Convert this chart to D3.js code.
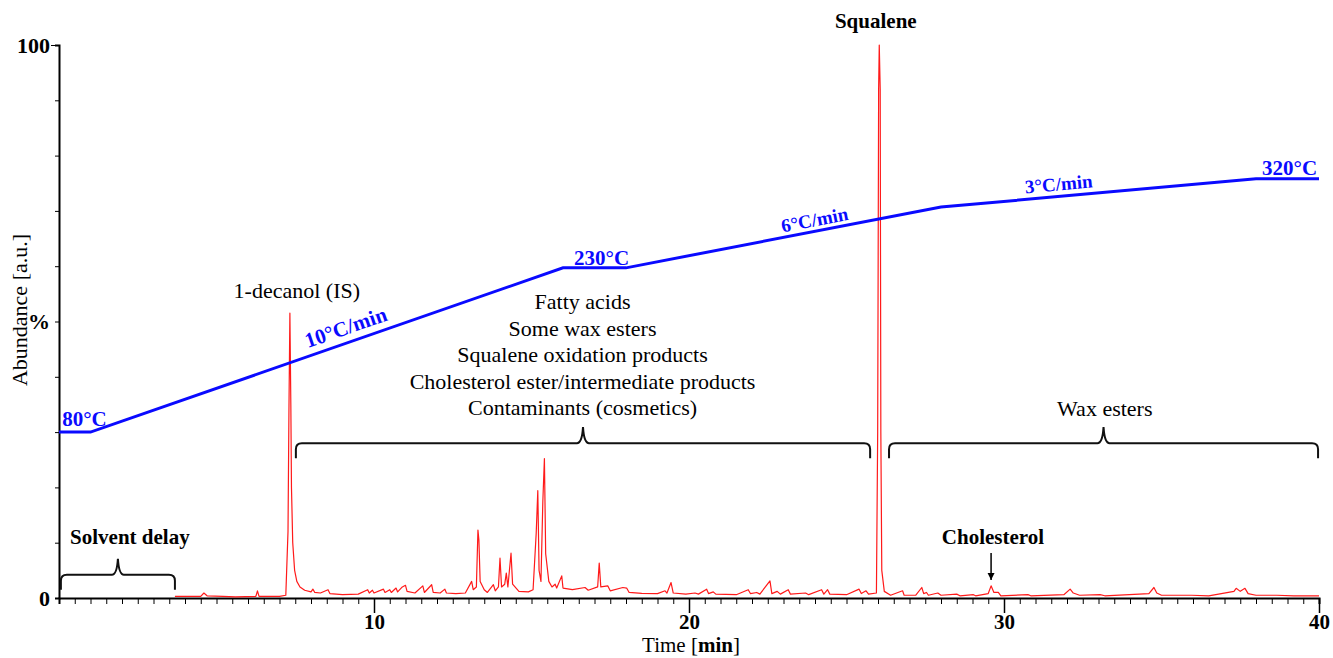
<!DOCTYPE html>
<html>
<head>
<meta charset="utf-8">
<script src="https://cdn.jsdelivr.net/npm/d3@7"></script>
<style>
  body { margin: 0; background: #fff; }
  #chromatogram svg { display: block; font-family: "Liberation Serif", "Times New Roman", serif; }
</style>
</head>
<body>
<div id="chromatogram"></div>
<script>
// GC-MS chromatogram, [time (min), abundance (%)]
const chromatogram = [
  [3.68, 0.3], [4.5, 0.3], [4.6, 0.9], [4.7, 0.4], [5.2, 0.3], [5.6, 0.2],
  [6.25, 0.3], [6.3, 1.3], [6.35, 0.3], [7.0, 0.3], [7.2, 0.5],
  [7.27, 12], [7.3, 34], [7.33, 51.5], [7.36, 35], [7.38, 20], [7.42, 10],
  [7.48, 5], [7.55, 3], [7.65, 2], [7.8, 1.4], [8.0, 1.1],
  [8.06, 1.6], [8.12, 1.0], [8.3, 0.9], [8.54, 1.5], [8.6, 0.8], [9.0, 0.6], [9.5, 0.7],
  [9.8, 1.5], [9.85, 0.9], [9.95, 1.4], [10.0, 0.9], [10.3, 1.6], [10.35, 1.0],
  [10.5, 1.5], [10.55, 1.0], [10.7, 1.8], [10.75, 1.1], [10.9, 2.0], [11.0, 2.3],
  [11.05, 1.2], [11.3, 0.9], [11.55, 2.2], [11.6, 1.0], [11.83, 2.4], [11.88, 1.0],
  [12.1, 0.9], [12.25, 1.6], [12.3, 0.9], [12.6, 0.8], [12.9, 0.9],
  [13.1, 3.0], [13.15, 1.5], [13.25, 2.0], [13.3, 12.3], [13.33, 10.5], [13.37, 3.0],
  [13.5, 1.5], [13.6, 1.0], [13.79, 2.4], [13.85, 1.3], [13.95, 2.0], [14.0, 7.2],
  [14.05, 2.0], [14.15, 2.5], [14.2, 4.5], [14.25, 2.0], [14.35, 8.1], [14.4, 2.5],
  [14.6, 1.2], [14.9, 1.1], [15.05, 1.5],
  [15.15, 11.8], [15.2, 19.4], [15.24, 5.0], [15.3, 3.0], [15.36, 17.5], [15.41, 25.2],
  [15.45, 8.0], [15.55, 3.0], [15.65, 2.0], [15.75, 2.5], [15.8, 1.8], [15.96, 4.0],
  [16.0, 1.8], [16.3, 1.5], [16.7, 1.9], [16.8, 1.4], [17.1, 2.0], [17.15, 6.3],
  [17.2, 2.0], [17.42, 2.2], [17.5, 1.3], [17.9, 1.9], [18.02, 1.8], [18.1, 1.0],
  [18.5, 0.85], [19.0, 0.8], [19.24, 1.3], [19.3, 0.9], [19.43, 2.8], [19.5, 0.9],
  [19.9, 0.7], [20.19, 0.9], [20.3, 0.7], [20.56, 1.6], [20.62, 0.8], [20.77, 1.1],
  [20.85, 0.7], [21.5, 0.6], [21.88, 1.5], [21.95, 0.8], [22.15, 1.0], [22.25, 0.7],
  [22.57, 3.1], [22.63, 0.8], [22.8, 1.2], [22.9, 0.7], [23.15, 1.5], [23.22, 0.7],
  [23.7, 0.9], [23.8, 0.6], [24.21, 1.5], [24.28, 0.7], [24.4, 1.5], [24.47, 0.7],
  [25.0, 0.6], [25.4, 1.6], [25.47, 0.8], [25.62, 1.3], [25.7, 0.7], [25.95, 0.9],
  [25.99, 30], [26.02, 92], [26.04, 100], [26.07, 92], [26.09, 30], [26.12, 5],
  [26.2, 1.2], [26.4, 0.5], [26.78, 1.3], [26.83, 0.5], [27.2, 0.5], [27.39, 1.9],
  [27.45, 0.8], [27.54, 1.0], [27.6, 0.5], [27.9, 0.9], [28.0, 0.5], [28.5, 0.7],
  [28.6, 0.4], [29.03, 0.6], [29.1, 0.4], [29.5, 0.8], [29.59, 2.2], [29.68, 1.0],
  [29.82, 1.0], [29.9, 0.4], [30.76, 0.6], [30.85, 0.4], [31.9, 0.6], [32.1, 1.6],
  [32.2, 0.9], [32.4, 0.5], [33.05, 0.6], [33.2, 0.4], [34.6, 0.8], [34.76, 1.9],
  [34.85, 0.9], [35.0, 0.5], [35.96, 0.5], [36.5, 0.4], [37.3, 1.2], [37.37, 1.75],
  [37.5, 1.2], [37.65, 1.75], [37.75, 0.8], [38.0, 0.5], [38.66, 0.5], [39.2, 0.4], [40, 0.4]
];

// oven programme, drawn on the abundance scale
const tempProgramTime = [0, 1, 16, 18, 28, 38, 40];
const tempProgramLevel = [30.0, 30.0, 59.7, 59.7, 70.7, 75.8, 75.8];
const tempLabels = ["80°C", "10°C/min", "230°C", "6°C/min", "3°C/min", "320°C"];

const xMajorTicks = [10, 20, 30, 40];
const yLabelValues = [0, 50, 100];
const yLabelTexts = ["0", "%", "100"];

const compoundClasses = [
  "Fatty acids",
  "Some wax esters",
  "Squalene oxidation products",
  "Cholesterol ester/intermediate products",
  "Contaminants (cosmetics)"
];

class ChromatogramChart {
  constructor(containerId) {
    this.containerId = containerId;
    this.width = 1333;
    this.height = 658;
    this.font = "'Liberation Serif', 'Times New Roman', serif";
  }

  render() {
    const svg = d3.select(`#${this.containerId}`)
      .append("svg")
      .attr("width", this.width)
      .attr("height", this.height);

    svg.append("rect")
      .attr("width", this.width)
      .attr("height", this.height)
      .attr("fill", "#fff");

    const x = d3.scaleLinear().domain([0, 40]).range([59, 1319]);
    const y = d3.scaleLinear().domain([0, 100]).range([598, 45]);

    // x axis: half-minute minor ticks + labelled major ticks
    svg.append("g")
      .attr("transform", `translate(0,${y(0)})`)
      .call(d3.axisBottom(x).tickValues(d3.range(0, 40.01, 0.5)).tickSize(6).tickFormat(""))
      .call((g) => g.select(".domain").attr("stroke-width", 2))
      .call((g) => g.selectAll(".tick line").attr("stroke-width", 1));

    svg.append("g")
      .attr("transform", `translate(0,${y(0)})`)
      .call(d3.axisBottom(x).tickValues(xMajorTicks).tickSize(15).tickPadding(1))
      .call((g) => g.select(".domain").remove())
      .call((g) => g.selectAll(".tick line").attr("stroke-width", 1.5))
      .call((g) => g.selectAll("text")
        .attr("font-family", this.font)
        .attr("font-size", 21)
        .attr("font-weight", "bold")
        .attr("fill", "#000"));

    // y axis
    svg.append("g")
      .attr("transform", `translate(${x(0)},0)`)
      .call(d3.axisLeft(y)
        .tickValues(d3.range(0, 100.01, 10))
        .tickSize(4)
        .tickPadding(5)
        .tickFormat((d) => {
          const i = yLabelValues.indexOf(d);
          return i >= 0 ? yLabelTexts[i] : "";
        }))
      .call((g) => g.select(".domain").attr("stroke-width", 2))
      .call((g) => g.selectAll(".tick line")
        .attr("stroke-width", 1)
        .attr("x2", (d) => (d === 100 ? -8 : -4)))
      .call((g) => g.selectAll("text")
        .attr("font-family", this.font)
        .attr("font-size", 22)
        .attr("font-weight", "bold")
        .attr("fill", "#000"));

    svg.append("text")
      .attr("transform", `translate(27,310) rotate(-90)`)
      .attr("text-anchor", "middle")
      .attr("font-size", 22)
      .text("Abundance [a.u.]");

    const xTitle = svg.append("text")
      .attr("x", 691)
      .attr("y", 652)
      .attr("text-anchor", "middle")
      .attr("font-size", 21);
    xTitle.append("tspan").text("Time [");
    xTitle.append("tspan").attr("font-weight", "bold").text("min");
    xTitle.append("tspan").text("]");

    // chromatogram trace
    svg.append("path")
      .datum(chromatogram)
      .attr("fill", "none")
      .attr("stroke", "#ff1a1a")
      .attr("stroke-width", 1.2)
      .attr("stroke-linejoin", "round")
      .attr("d", d3.line().x((d) => x(d[0])).y((d) => y(d[1])));

    // temperature programme
    const tempPoints = tempProgramTime.map((t, i) => [t, tempProgramLevel[i]]);
    svg.append("path")
      .datum(tempPoints)
      .attr("fill", "none")
      .attr("stroke", "#0a0aff")
      .attr("stroke-width", 3)
      .attr("d", d3.line().x((d) => x(d[0])).y((d) => y(d[1])));

    const levelAt = (t) => {
      const i = d3.bisectRight(tempProgramTime, t) - 1;
      const j = Math.min(i + 1, tempProgramTime.length - 1);
      if (i === j) return tempProgramLevel[i];
      const f = (t - tempProgramTime[i]) / (tempProgramTime[j] - tempProgramTime[i]);
      return tempProgramLevel[i] + f * (tempProgramLevel[j] - tempProgramLevel[i]);
    };
    const slopeAngle = (seg) => {
      const dx = x(tempProgramTime[seg + 1]) - x(tempProgramTime[seg]);
      const dy = y(tempProgramLevel[seg + 1]) - y(tempProgramLevel[seg]);
      return Math.atan2(dy, dx) * 180 / Math.PI;
    };
    // [time of label start, segment, gap above line, font size]
    const tempLabelPlace = [
      [0.1, 0, 6, 21], [7.98, 1, 8, 21], [16.35, 2, 3, 21],
      [23.0, 3, 5, 19], [30.7, 4, 6, 19], [38.19, 5, 4, 21]
    ];
    tempLabels.forEach((label, i) => {
      const [t, seg, gap, size] = tempLabelPlace[i];
      const angle = slopeAngle(seg);
      svg.append("text")
        .attr("transform", `translate(${x(t)},${y(levelAt(t))}) rotate(${angle}) translate(0,${-gap})`)
        .attr("fill", "#0a0aff")
        .attr("font-size", size)
        .attr("font-weight", "bold")
        .text(label);
    });

    // peak labels
    const label = (text, px, py, opts = {}) => svg.append("text")
      .attr("x", px)
      .attr("y", py)
      .attr("text-anchor", opts.anchor || "middle")
      .attr("font-size", opts.size || 21)
      .attr("font-weight", opts.weight || "bold")
      .text(text);

    label("Squalene", x(25.93), 28);
    label("1-decanol (IS)", x(7.55), 298, { weight: "normal", size: 22 });
    label("Solvent delay", x(2.25), 544);
    label("Cholesterol", x(29.65), 544);
    label("Wax esters", x(33.2), 416, { weight: "normal", size: 22 });

    compoundClasses.forEach((text, i) => {
      label(text, x(16.62), 309 + i * 26.6, { weight: "normal", size: 22 });
    });

    // braces
    const bracePath = (x1, x2, yLine, drop, rise) => {
      const xm = (x1 + x2) / 2;
      const r = 6;
      return `M${x1},${yLine + drop} L${x1},${yLine + r} Q${x1},${yLine} ${x1 + r},${yLine}` +
        ` L${xm - 6},${yLine} Q${xm - 1},${yLine} ${xm},${yLine - rise}` +
        ` Q${xm + 1},${yLine} ${xm + 6},${yLine} L${x2 - r},${yLine}` +
        ` Q${x2},${yLine} ${x2},${yLine + r} L${x2},${yLine + drop}`;
    };
    const braces = [[0.06, 3.68, 4.2], [7.52, 25.75, 28.0], [26.35, 39.97, 28.0]];
    braces.forEach(([t1, t2, level]) => {
      svg.append("path")
        .attr("d", bracePath(x(t1), x(t2), y(level), 15, 16))
        .attr("fill", "none")
        .attr("stroke", "#111")
        .attr("stroke-width", 2);
    });

    // cholesterol arrow
    svg.append("defs").append("marker")
      .attr("id", "arrow")
      .attr("viewBox", "0 0 10 10")
      .attr("refX", 10)
      .attr("refY", 5)
      .attr("markerWidth", 5)
      .attr("markerHeight", 5)
      .attr("orient", "auto")
      .append("path")
      .attr("d", "M0,0 L10,5 L0,10 z")
      .attr("fill", "#000");

    svg.append("line")
      .attr("x1", x(29.59))
      .attr("x2", x(29.59))
      .attr("y1", 553)
      .attr("y2", 580)
      .attr("stroke", "#000")
      .attr("stroke-width", 1.5)
      .attr("marker-end", "url(#arrow)");
  }
}

new ChromatogramChart("chromatogram").render();
</script>
</body>
</html>
